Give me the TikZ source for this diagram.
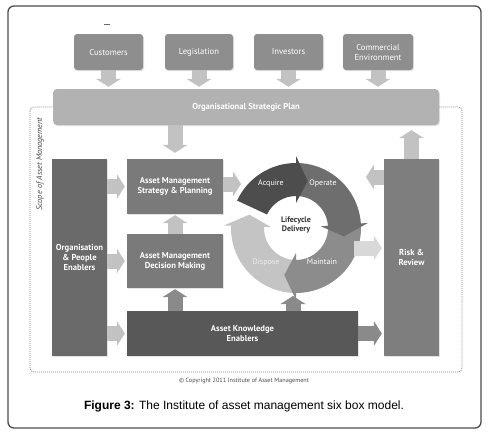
\documentclass[tikz,border=0pt]{standalone}
\usepackage{fontspec}
\setmainfont{Liberation Sans}
\newfontfamily\ptsans{PT Sans}
\usetikzlibrary{arrows.meta,shadows}
\definecolor{cTop}{HTML}{8E8E8E}
\definecolor{cOsp}{HTML}{B2B2B2}
\definecolor{cOpe}{HTML}{6A6A6A}
\definecolor{cAm}{HTML}{7A7A7A}
\definecolor{cAke}{HTML}{585858}
\definecolor{cRr}{HTML}{7E7E7E}
\definecolor{cAcq}{HTML}{4D4D4D}
\definecolor{cOpr}{HTML}{6E6E6E}
\definecolor{cMai}{HTML}{8C8C8C}
\definecolor{cDis}{HTML}{C4C4C4}
\definecolor{aLight}{HTML}{C2C2C2}
\definecolor{aPale}{HTML}{D8D8D8}
\definecolor{aDark}{HTML}{8A8A8A}
\newcommand\lcseg[3]{\fill[#3] (#1:32pt) arc[start angle=#1,end angle=#2,radius=32pt] -- (#2:25pt) -- ({#2-14}:48.5pt) -- (#2:72pt) -- (#2:65pt) arc[start angle=#2,end angle=#1,radius=65pt] -- cycle;}
\begin{document}
\begin{tikzpicture}[x=1pt,y=-1pt,
  shadowed/.style={drop shadow={opacity=0.22,shadow xshift=1pt,shadow yshift=-1.2pt}},
  topbox/.style={shadowed,fill=cTop,rounded corners=3pt,text=white,align=center,inner sep=0pt,
    minimum height=36pt,font=\ptsans\fontsize{8.6}{10}\selectfont},
  bigbox/.style={shadowed,align=center,inner sep=0pt,text=white,
    font=\ptsans\bfseries\fontsize{8.6}{10}\selectfont},
  blk/.style={draw=#1,line width=15pt,-{Triangle[line width=0pt,length=8pt,width=25pt]}},
  ringlbl/.style={text=white,font=\ptsans\fontsize{8}{9}\selectfont,inner sep=0pt}]
\useasboundingbox (0,0) rectangle (494,439);
\fill[white] (0,0) rectangle (494,439);
% frame
\draw[line width=1.3pt,draw=black!70,rounded corners=6pt] (8,6) rectangle (481,428);
\draw[line width=1pt,draw=black!60] (104,24) -- (110,24);
% scope
\draw[draw=black!50,line width=0.7pt,dash pattern=on 1pt off 1pt,rounded corners=4pt] (30,107) rectangle (462,372);
\node[rotate=90,font=\ptsans\itshape\fontsize{8.2}{9}\selectfont,text=black!70,inner sep=0pt] (scl) at (40,164) {Scope of Asset Management};
% top boxes
\node[topbox,minimum width=69pt] (cust) at (108.5,52) {Customers};
\node[topbox,minimum width=68pt] (legis) at (199,52) {Legislation};
\node[topbox,minimum width=69pt] (inv) at (288.5,52) {Investors};
\node[topbox,minimum width=70pt] (comm) at (378,52) {Commercial\\Environment};
% strategic plan
\node[bigbox,fill=cOsp,rounded corners=4pt,minimum width=386pt,minimum height=36pt] (osp) at (246,107) {Organisational Strategic Plan};
% main boxes
\node[bigbox,fill=cOpe,minimum width=55pt,minimum height=197pt,text depth=-12pt] (ope) at (79.5,257.5) {Organisation\\\& People\\Enablers};
\node[bigbox,fill=cAm,minimum width=96pt,minimum height=55pt] (ams) at (175,186.5) {Asset Management\\Strategy \& Planning};
\node[bigbox,fill=cAm,minimum width=96pt,minimum height=54pt] (amd) at (175,261) {Asset Management\\Decision Making};
\node[bigbox,fill=cAke,minimum width=231pt,minimum height=45pt] (ake) at (242.5,333.5) {Asset Knowledge\\Enablers};
\node[bigbox,fill=cRr,minimum width=55pt,minimum height=197pt] (rr) at (411.5,257.5) {Risk \&\\Review};
% lifecycle
\coordinate (lc) at (296,228);
\begin{scope}[shift={(lc)}]
  \lcseg{-90}{-182}{cDis}
  \lcseg{4}{-90}{cMai}
  \lcseg{90}{4}{cOpr}
  \lcseg{155}{90}{cAcq}
\end{scope}
\node[font=\ptsans\bfseries\fontsize{8}{9.5}\selectfont,text=black!80,align=center,inner sep=0pt] (lcd) at (296,225) {Lifecycle\\Delivery};
\node[ringlbl] (acq) at (271,183) {Acquire};
\node[ringlbl] (opr) at (323,183) {Operate};
\node[ringlbl] (mai) at (322,262) {Maintain};
\node[ringlbl,text=white!93!black] (dis) at (266,262) {Dispose};
\coordinate (cycL) at (241,184);
\coordinate (cycB) at (293,296);
\coordinate (cycR) at (354,248);
\coordinate (cycRt) at (366,177);
% connectors
\foreach \b in {cust,legis,inv,comm}
  \draw[blk=aLight,shorten >=2pt] (\b.south) -- (\b.south |- osp.north);
\draw[blk=aLight,shorten >=6pt] (ams.north |- osp.south) -- (ams.north);
\draw[blk=aLight,shorten >=5pt] (rr.north) -- (rr.north |- osp.south);
\draw[blk=aLight,shorten >=2pt] (ope.east |- ams.east) -- (ams.west);
\draw[blk=aLight,shorten >=2pt] (ope.east |- amd.east) -- (amd.west);
\draw[blk=aLight,shorten >=2pt] (ope.east |- ake.east) -- (ake.west);
\draw[blk=aLight,shorten >=1pt] (amd.north) -- (ams.south);
\draw[blk=aDark,shorten >=1pt] (ake.north -| amd.north) -- (amd.south);
\draw[blk=aDark] (ake.north -| cycB) -- (cycB);
\draw[blk=aDark,shorten >=2pt] (ake.east) -- (rr.west |- ake.east);
\draw[blk=aLight] (ams.east |- cycL) -- (cycL);
\draw[blk=aPale,shorten >=2pt] (cycR) -- (rr.west |- cycR);
\draw[blk=aLight] (rr.west |- cycRt) -- (cycRt);
% texts
\node[font=\ptsans\fontsize{6.2}{7}\selectfont,text=black!70,inner sep=0pt] (copy) at (244,381) {\textcopyright{} Copyright 2011 Institute of Asset Management};
\node[font=\fontsize{12}{14}\selectfont,inner sep=0pt] (cap) at (244,406) {\textbf{Figure 3:} The Institute of asset management six box model.};
\end{tikzpicture}
\end{document}
